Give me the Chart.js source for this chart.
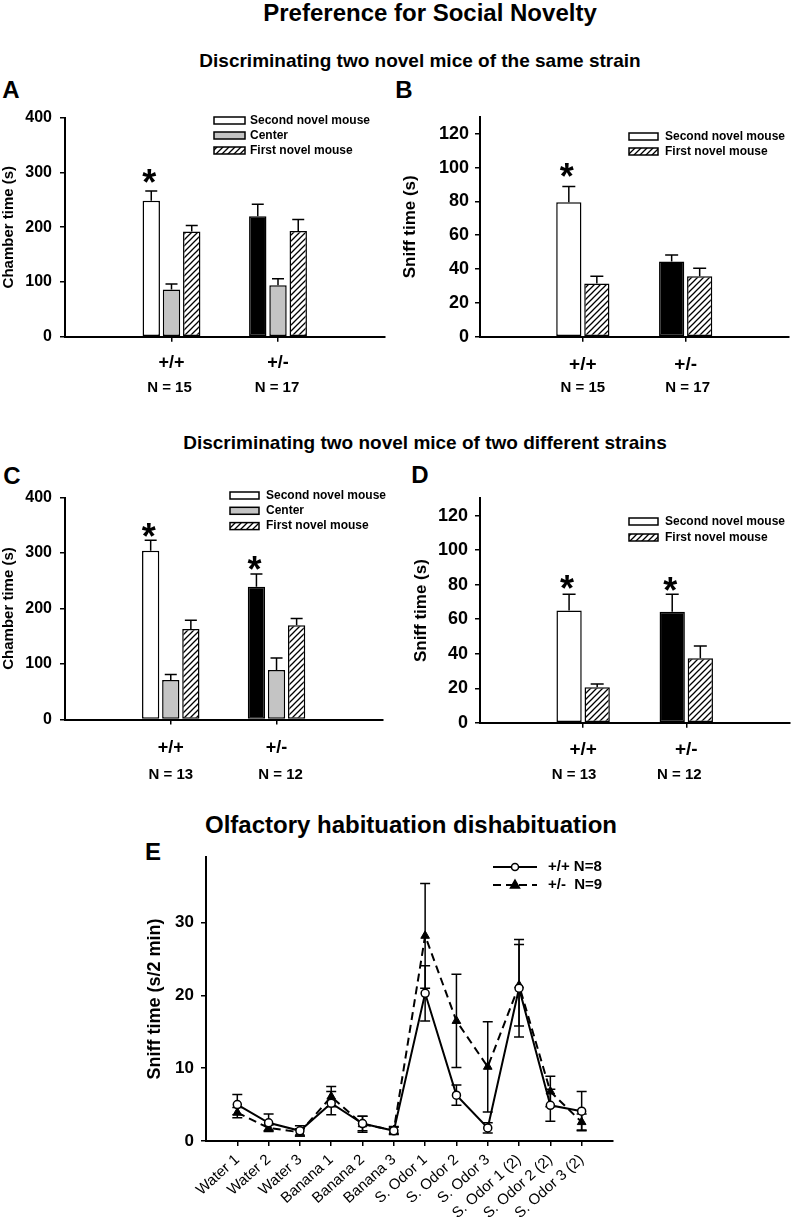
<!DOCTYPE html>
<html>
<head>
<meta charset="utf-8">
<script src="https://cdn.jsdelivr.net/npm/chart.js@4"></script>
<style>
  body { margin: 0; background: #fff; }
  #page { position: relative; width: 800px; height: 1218px; overflow: hidden;
          font-family: "Liberation Sans", Arial, Helvetica, sans-serif; color: #000; }
  .txt { position: absolute; font-weight: bold; white-space: nowrap; line-height: 1;
         transform: translate(-50%, -50%); }
  canvas { position: absolute; }
</style>
</head>
<body>
<div id="page">
  <div class="txt" style="left:430px;top:13px;font-size:24px">Preference for Social Novelty</div>
  <div class="txt" style="left:420px;top:60px;font-size:19px">Discriminating two novel mice of the same strain</div>
  <div class="txt" style="left:11px;top:90px;font-size:24px">A</div>
  <div class="txt" style="left:404px;top:90px;font-size:24px">B</div>
  <div class="txt" style="left:425px;top:442px;font-size:19px">Discriminating two novel mice of two different strains</div>
  <div class="txt" style="left:12px;top:476px;font-size:24px">C</div>
  <div class="txt" style="left:420px;top:475px;font-size:24px">D</div>
  <div class="txt" style="left:411px;top:825px;font-size:24px">Olfactory habituation dishabituation</div>
  <div class="txt" style="left:153px;top:852px;font-size:24px">E</div>

  <canvas id="chartA" width="395" height="300" style="left:0;top:100px"></canvas>
  <canvas id="chartB" width="405" height="300" style="left:395px;top:100px"></canvas>
  <canvas id="chartC" width="395" height="320" style="left:0;top:470px"></canvas>
  <canvas id="chartD" width="405" height="320" style="left:395px;top:470px"></canvas>
  <canvas id="chartE" width="500" height="378" style="left:130px;top:840px"></canvas>
</div>

<script>
// ---- data ----
const genotypes = ['+/+', '+/-'];

// A: same strain, chamber time (s)
const aSecond = [248, 220];
const aSecondErr = [18, 22];
const aCenter = [86, 94];
const aCenterErr = [10, 12];
const aFirst = [192, 193];
const aFirstErr = [11, 21];
const aStars = [308, null];
const aN = ['N = 15', 'N = 17'];

// B: same strain, sniff time (s)
const bSecond = [79.5, 44.4];
const bSecondErr = [9.3, 3.9];
const bFirst = [31.5, 35.7];
const bFirstErr = [4.2, 4.8];
const bStars = [103, null];
const bN = ['N = 15', 'N = 17'];

// C: different strains, chamber time (s)
const cSecond = [304, 239];
const cSecondErr = [19, 23];
const cCenter = [71, 89];
const cCenterErr = [10, 22];
const cFirst = [163, 170];
const cFirstErr = [16, 12];
const cStars = [355, 296];
const cN = ['N = 13', 'N = 12'];

// D: different strains, sniff time (s)
const dSecond = [65, 64.4];
const dSecondErr = [9.4, 10];
const dFirst = [20.6, 37.4];
const dFirstErr = [1.9, 7.1];
const dStars = [86, 85];
const dN = ['N = 13', 'N = 12'];

// E: olfactory habituation / dishabituation (s/2 min)
const odorLabels = ['Water 1', 'Water 2', 'Water 3', 'Banana 1', 'Banana 2', 'Banana 3',
  'S. Odor 1', 'S. Odor 2', 'S. Odor 3', 'S. Odor 1 (2)', 'S. Odor 2 (2)', 'S. Odor 3 (2)'];
const wtSniff = [5.0, 2.5, 1.4, 5.2, 2.4, 1.4, 20.3, 6.3, 1.8, 21.0, 4.9, 4.1];
const wtErr = [1.4, 1.2, 0.7, 1.6, 1.0, 0.5, 3.8, 1.4, 0.7, 6.7, 2.2, 2.7];
const hetSniff = [3.9, 1.8, 1.2, 6.1, 2.3, 1.5, 28.2, 16.5, 10.2, 21.4, 6.8, 2.6];
const hetErr = [0.7, 0.4, 0.5, 1.4, 1.1, 0.5, 7.2, 6.4, 6.2, 5.6, 2.1, 1.1];

// ---- helpers ----
const FONT = '"Liberation Sans", Arial, Helvetica, sans-serif';
Chart.defaults.font.family = FONT;
Chart.defaults.color = '#000';

// pad a list with an empty slot on each side of the axis
const pad = arr => [null, ...arr, null];

function hatchPattern(ctx) {
  const c = document.createElement('canvas');
  c.width = 6; c.height = 6;
  const g = c.getContext('2d');
  g.fillStyle = '#fff';
  g.fillRect(0, 0, 6, 6);
  g.strokeStyle = '#000';
  g.lineWidth = 1.3;
  g.beginPath();
  g.moveTo(0, 6); g.lineTo(6, 0);
  g.moveTo(-3, 3); g.lineTo(3, -3);
  g.moveTo(3, 9); g.lineTo(9, 3);
  g.stroke();
  return ctx.createPattern(c, 'repeat');
}

// error bars, read from dataset.errors
function drawErrors(chart, opts) {
  const ctx = chart.ctx, y = chart.scales.y, cap = opts.cap || 12;
  ctx.save();
  ctx.strokeStyle = '#000';
  ctx.lineWidth = 1.5;
  chart.data.datasets.forEach((ds, i) => {
    if (!ds.errors) return;
    chart.getDatasetMeta(i).data.forEach((el, j) => {
      const v = ds.data[j], e = ds.errors[j];
      if (v == null || e == null) return;
      const x = el.x;
      const top = y.getPixelForValue(v + e);
      const bot = y.getPixelForValue(opts.both ? v - e : v);
      ctx.beginPath();
      ctx.moveTo(x, bot); ctx.lineTo(x, top);
      ctx.moveTo(x - cap / 2, top); ctx.lineTo(x + cap / 2, top);
      if (opts.both) { ctx.moveTo(x - cap / 2, bot); ctx.lineTo(x + cap / 2, bot); }
      ctx.stroke();
    });
  });
  ctx.restore();
}

const errorBars = {
  id: 'errorBars',
  beforeDatasetsDraw(chart, args, opts) { if (opts.under) drawErrors(chart, opts); },
  afterDatasetsDraw(chart, args, opts) { if (!opts.under) drawErrors(chart, opts); }
};

// significance stars over the first dataset's bars
const stars = {
  id: 'stars',
  afterDatasetsDraw(chart, args, opts) {
    if (!opts.values) return;
    const ctx = chart.ctx, y = chart.scales.y, meta = chart.getDatasetMeta(0);
    ctx.save();
    ctx.font = 'bold ' + opts.size + 'px ' + FONT;
    ctx.textAlign = 'center';
    ctx.textBaseline = 'alphabetic';
    ctx.fillStyle = '#000';
    opts.values.forEach((v, j) => {
      if (v == null) return;
      ctx.fillText('*', meta.data[j].x - 2, y.getPixelForValue(v) + opts.size * 0.75);
    });
    ctx.restore();
  }
};

// "N = .." lines under the genotype labels
const nLabels = {
  id: 'nLabels',
  afterDraw(chart, args, opts) {
    if (!opts.labels) return;
    const ctx = chart.ctx, x = chart.scales.x;
    ctx.save();
    ctx.font = 'bold ' + opts.size + 'px ' + FONT;
    ctx.textAlign = 'center';
    ctx.textBaseline = 'middle';
    ctx.fillStyle = '#000';
    opts.labels.forEach((t, i) => {
      if (!t) return;
      const dx = opts.dx ? opts.dx[i] : 0;
      ctx.fillText(t, x.getPixelForValue(i) + dx, chart.chartArea.bottom + opts.dy);
    });
    ctx.restore();
  }
};

// legend with filled boxes (for bar panels)
const boxLegend = {
  id: 'boxLegend',
  afterDraw(chart, args, opts) {
    if (opts.x == null) return;
    const ctx = chart.ctx;
    ctx.save();
    ctx.font = 'bold 12px ' + FONT;
    ctx.textAlign = 'left';
    ctx.textBaseline = 'middle';
    chart.data.datasets.forEach((ds, i) => {
      const yy = opts.y + i * opts.rowH;
      ctx.fillStyle = ds.legendFill;
      ctx.fillRect(opts.x, yy - 3.5, opts.boxW, 7);
      ctx.strokeStyle = '#000';
      ctx.lineWidth = 1.5;
      ctx.strokeRect(opts.x, yy - 3.5, opts.boxW, 7);
      ctx.fillStyle = '#000';
      ctx.fillText(ds.label, opts.x + opts.boxW + opts.gap, yy);
    });
    ctx.restore();
  }
};

// legend with line samples (for panel E)
const lineLegend = {
  id: 'lineLegend',
  afterDraw(chart, args, opts) {
    if (opts.x == null) return;
    const ctx = chart.ctx;
    ctx.save();
    chart.data.datasets.forEach((ds, i) => {
      const yy = opts.y + i * opts.rowH;
      ctx.strokeStyle = '#000';
      ctx.lineWidth = 2;
      ctx.setLineDash(ds.borderDash || []);
      ctx.beginPath();
      ctx.moveTo(opts.x, yy); ctx.lineTo(opts.x + opts.len, yy);
      ctx.stroke();
      ctx.setLineDash([]);
      const cx = opts.x + opts.len / 2;
      ctx.lineWidth = 1.5;
      ctx.fillStyle = ds.pointBackgroundColor;
      ctx.beginPath();
      if (ds.pointStyle === 'triangle') {
        ctx.moveTo(cx, yy - 5); ctx.lineTo(cx + 4.5, yy + 3); ctx.lineTo(cx - 4.5, yy + 3); ctx.closePath();
      } else {
        ctx.arc(cx, yy, 3.5, 0, Math.PI * 2);
      }
      ctx.fill(); ctx.stroke();
      ctx.fillStyle = '#000';
      ctx.font = 'bold 15px ' + FONT;
      ctx.textBaseline = 'middle';
      ctx.fillText(ds.label, opts.x + opts.len + opts.gap, yy);
    });
    ctx.restore();
  }
};

function yAxis(o) {
  return {
    min: 0, max: o.max,
    ticks: { stepSize: o.step, font: { size: o.tickSize, weight: 'bold' }, padding: o.tickPad, color: '#000' },
    grid: { drawOnChartArea: false, drawTicks: true, tickLength: 5, color: '#000', lineWidth: 1.5 },
    border: { color: '#000', width: 2 },
    title: { display: true, text: o.title, color: '#000',
             font: { size: o.titleSize, weight: 'bold' }, padding: { top: o.titlePad, bottom: 0 } },
    // ticks every step up to the last full step, never at the axis end
    afterBuildTicks: s => {
      const t = [];
      for (let v = 0; v <= s.max + 1e-9; v += o.step) t.push({ value: v });
      s.ticks = t;
    },
    afterFit: s => { s.width = o.width; }
  };
}

function xAxis(o) {
  return {
    offset: false,
    ticks: { autoSkip: false, maxRotation: o.rot || 0, minRotation: o.rot || 0, color: '#000',
             font: { size: o.tickSize, weight: o.weight || 'bold' }, padding: o.tickPad },
    grid: { offset: false, drawOnChartArea: false, drawTicks: true, tickLength: 5, lineWidth: 1.5,
            color: c => (c.tick && c.tick.label === '') ? 'rgba(0,0,0,0)' : '#000' },
    border: { color: '#000', width: 2 },
    afterFit: s => { s.height = o.height; }
  };
}

function barSet(label, values, errors, colors, legendFill) {
  return {
    label, data: pad(values), errors: pad(errors), legendFill,
    backgroundColor: colors, borderColor: '#000', borderWidth: 1.5, borderSkipped: false
  };
}

function barPanel(id, sets, p) {
  const ctx = document.getElementById(id).getContext('2d');
  const hatch = hatchPattern(ctx);
  const datasets = sets.map(s => {
    const fill = s.kind === 'hatch' ? hatch : s.kind === 'gray' ? '#c4c4c4' : '#fff';
    const cols = s.kind === 'open' ? ['#fff', '#fff', '#000', '#fff'] : fill;
    const d = barSet(s.label, s.values, s.errors, cols, fill);
    d.categoryPercentage = p.catPct;
    d.barPercentage = p.barPct;
    return d;
  });
  return new Chart(ctx, {
    type: 'bar',
    data: { labels: pad(genotypes).map(v => v || ''), datasets },
    options: {
      responsive: false, animation: false,
      layout: { padding: { top: p.top, right: p.right, left: 0, bottom: 0 } },
      plugins: {
        legend: { display: false }, tooltip: { enabled: false },
        errorBars: { cap: p.cap },
        stars: { values: pad(p.stars), size: 36 },
        nLabels: { labels: pad(p.n), size: 15, dy: p.nDy, dx: pad(p.nDx).map(v => v || 0) },
        boxLegend: p.legend
      },
      scales: {
        x: xAxis({ tickSize: p.xTickSize, tickPad: p.xTickPad, height: p.xHeight }),
        y: yAxis({ max: p.max, step: p.step, tickSize: p.yTickSize, tickPad: p.yTickPad, width: p.yWidth,
                   title: p.title, titleSize: p.titleSize, titlePad: p.titlePad })
      }
    },
    plugins: [errorBars, stars, nLabels, boxLegend]
  });
}

// ---- panel A ----
barPanel('chartA', [
  { label: 'Second novel mouse', kind: 'open', values: aSecond, errors: aSecondErr },
  { label: 'Center', kind: 'gray', values: aCenter, errors: aCenterErr },
  { label: 'First novel mouse', kind: 'hatch', values: aFirst, errors: aFirstErr }
], {
  top: 14.3, right: 10, xHeight: 63.3, yWidth: 65, max: 400, step: 100,
  yTickSize: 16, yTickPad: 8, xTickSize: 18, xTickPad: 10.5,
  title: 'Chamber time (s)', titleSize: 15, titlePad: 0,
  catPct: 0.57, barPct: 0.86, cap: 12, stars: aStars, n: aN, nDy: 51, nDx: [-2, -1],
  legend: { x: 214, y: 20.5, rowH: 15, boxW: 31, gap: 5 }
});

// ---- panel B ----
barPanel('chartB', [
  { label: 'Second novel mouse', kind: 'open', values: bSecond, errors: bSecondErr },
  { label: 'First novel mouse', kind: 'hatch', values: bFirst, errors: bFirstErr }
], {
  top: 12.1, right: 1, xHeight: 63.3, yWidth: 85, max: 130, step: 20,
  yTickSize: 18, yTickPad: 6, xTickSize: 19, xTickPad: 11.5,
  title: 'Sniff time (s)', titleSize: 17, titlePad: 4.8,
  catPct: 0.545, barPct: 0.9, cap: 13, stars: bStars, n: bN, nDy: 51, nDx: [0, 2],
  legend: { x: 234, y: 36.5, rowH: 15, boxW: 29, gap: 7 }
});

// ---- panel C ----
barPanel('chartC', [
  { label: 'Second novel mouse', kind: 'open', values: cSecond, errors: cSecondErr },
  { label: 'Center', kind: 'gray', values: cCenter, errors: cCenterErr },
  { label: 'First novel mouse', kind: 'hatch', values: cFirst, errors: cFirstErr }
], {
  top: 27.5, right: 10, xHeight: 70.5, yWidth: 65, max: 400, step: 100,
  yTickSize: 16, yTickPad: 8, xTickSize: 18, xTickPad: 12.7,
  title: 'Chamber time (s)', titleSize: 15, titlePad: 0,
  catPct: 0.57, barPct: 0.86, cap: 12, stars: cStars, n: cN, nDy: 55.5, nDx: [0, 4],
  legend: { x: 230, y: 25.5, rowH: 15.3, boxW: 29, gap: 7 }
});

// ---- panel D ----
barPanel('chartD', [
  { label: 'Second novel mouse', kind: 'open', values: dSecond, errors: dSecondErr },
  { label: 'First novel mouse', kind: 'hatch', values: dFirst, errors: dFirstErr }
], {
  top: 28.4, right: 1, xHeight: 67.2, yWidth: 85, max: 130, step: 20,
  yTickSize: 18, yTickPad: 7, xTickSize: 19, xTickPad: 10.6,
  title: 'Sniff time (s)', titleSize: 17, titlePad: 16.3,
  catPct: 0.545, barPct: 0.9, cap: 13, stars: dStars, n: dN, nDy: 52, nDx: [-9, -7],
  legend: { x: 234, y: 51.5, rowH: 16, boxW: 29, gap: 7 }
});

// ---- panel E ----
new Chart(document.getElementById('chartE'), {
  type: 'line',
  data: {
    labels: pad(odorLabels).map(v => v || ''),
    datasets: [
      { label: '+/+ N=8', data: pad(wtSniff), errors: pad(wtErr),
        borderColor: '#000', borderWidth: 2, tension: 0, fill: false,
        pointStyle: 'circle', pointRadius: 4, pointBackgroundColor: '#fff',
        pointBorderColor: '#000', pointBorderWidth: 1.5 },
      { label: '+/-  N=9', data: pad(hetSniff), errors: pad(hetErr),
        borderColor: '#000', borderWidth: 2, borderDash: [8, 5], tension: 0, fill: false,
        pointStyle: 'triangle', pointRadius: 5, pointBackgroundColor: '#000',
        pointBorderColor: '#000', pointBorderWidth: 1 }
    ]
  },
  options: {
    responsive: false, animation: false,
    layout: { padding: { top: 14.4, right: 13, left: 0, bottom: 0 } },
    plugins: {
      legend: { display: false }, tooltip: { enabled: false },
      errorBars: { cap: 10, both: true, under: true },
      lineLegend: { x: 363, y: 27, rowH: 18, len: 44, gap: 11 }
    },
    scales: {
      x: xAxis({ tickSize: 15, weight: 'normal', tickPad: 5, height: 77, rot: 42 }),
      y: yAxis({ max: 39, step: 10, tickSize: 17, tickPad: 7, width: 76,
                 title: 'Sniff time (s/2 min)', titleSize: 18, titlePad: 14.2 })
    }
  },
  plugins: [errorBars, lineLegend]
});
</script>
</body>
</html>
